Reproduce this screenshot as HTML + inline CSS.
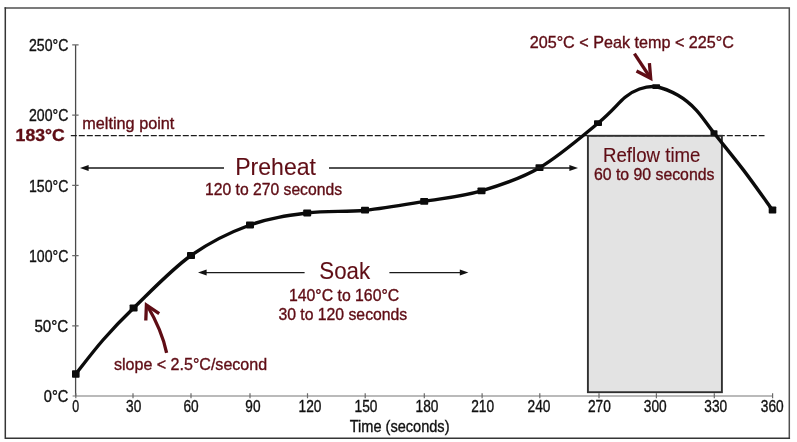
<!DOCTYPE html>
<html><head><meta charset="utf-8">
<style>
html,body{margin:0;padding:0;background:#fff;}
body{width:797px;height:442px;overflow:hidden;}
svg{display:block;font-family:"Liberation Sans",sans-serif;will-change:transform;opacity:0.999;}
</style></head><body>
<svg width="797" height="442" viewBox="0 0 797 442">
<rect x="0" y="0" width="797" height="442" fill="#fff"/>
<path d="M4.550 7.900H789.300V439.050" fill="none" stroke="#505050" stroke-width="1.5"/>
<path d="M5.300 7.150V438.300H790.050" fill="none" stroke="#353535" stroke-width="1.5"/>
<rect x="587.9" y="135.8" width="134" height="256.4" fill="#e3e3e3"/>
<g stroke="#4a4a4a" stroke-width="1.3" fill="none">
<path d="M75.6 44.9V396.0"/>
<path d="M72.6 396.0H773" stroke="#777" stroke-width="1.1"/>
</g><g stroke="#6a6a6a" stroke-width="1.2" fill="none">
<path d="M72.19999999999999 44.9h6.4M72.19999999999999 115.1h6.4M72.19999999999999 185.3h6.4M72.19999999999999 255.6h6.4M72.19999999999999 325.8h6.4"/>
<path d="M75.8 393.2v5M133.0 393.2v5M191.0 393.2v5M250.0 393.2v5M307.5 393.2v5M365.2 393.2v5M424.3 393.2v5M482.1 393.2v5M539.8 393.2v5M599.0 393.2v5M656.4 393.2v5M714.3 393.2v5M772.6 393.2v5"/>
</g>
<path d="M70.800 135.600H764.500" stroke="#1c1c1c" stroke-width="1.4" stroke-dasharray="6 2" fill="none"/>
<rect x="587.9" y="135.8" width="134" height="256.4" fill="none" stroke="#303030" stroke-width="1.9"/>
<path d="M75.8 374 C80.3 368.3 93.4 351.0 103 340 C112.6 329.0 118.9 322.1 133.6 308 C148.3 293.9 171.6 269.3 191 255.5 C210.4 241.7 230.6 232.1 250 225 C269.4 217.9 288.0 215.5 307.2 213 C326.4 210.5 345.5 212.1 365 210.2 C384.5 208.3 404.8 204.6 424.2 201.4 C443.6 198.2 462.3 196.4 481.5 190.8 C500.7 185.2 520.1 179.0 539.5 167.7 C558.9 156.4 583.7 134.9 598 123.2 C612.3 111.5 618.2 103.0 625.1 97.3 C632.0 91.6 634.3 90.8 639.5 89 C644.7 87.2 649.8 85.7 656.2 86.7 C662.6 87.8 671.4 91.5 678 95.3 C684.6 99.1 690.0 103.5 696 109.8 C702.0 116.1 706.0 122.9 714 133 C722.0 143.1 734.1 157.8 743.9 170.6 C753.6 183.4 767.7 203.4 772.5 210" fill="none" stroke="#0b0b0b" stroke-width="3.4" stroke-linecap="round" stroke-linejoin="round"/>
<g fill="#0b0b0b">
<rect x="72.0" y="370.3" width="7.6" height="7.4" rx="0.8"/>
<rect x="129.6" y="304.4" width="8" height="7.2" rx="0.8"/>
<rect x="187.0" y="252.0" width="8" height="7" rx="0.8"/>
<rect x="246.0" y="221.6" width="8" height="6.8" rx="0.8"/>
<rect x="303.2" y="209.6" width="8" height="6.8" rx="0.8"/>
<rect x="361.0" y="206.8" width="8" height="6.8" rx="0.8"/>
<rect x="420.2" y="198.0" width="8" height="6.8" rx="0.8"/>
<rect x="477.5" y="187.4" width="8" height="6.8" rx="0.8"/>
<rect x="535.5" y="164.3" width="8" height="6.8" rx="0.8"/>
<rect x="594.0" y="120.3" width="8" height="5.8" rx="0.8"/>
<rect x="652.3" y="84.3" width="7.8" height="4.8" rx="0.8"/>
<rect x="710.5" y="130.2" width="7" height="5.6" rx="0.8"/>
<rect x="768.7" y="206.4" width="7.6" height="7.2" rx="0.8"/>
</g>
<text x="29.0" y="51.2" font-size="15.9" fill="#111" textLength="39.3" lengthAdjust="spacingAndGlyphs" stroke="#111" stroke-width="0.35">250°C</text>
<text x="29.0" y="121.4" font-size="15.9" fill="#111" textLength="39.3" lengthAdjust="spacingAndGlyphs" stroke="#111" stroke-width="0.35">200°C</text>
<text x="29.0" y="191.6" font-size="15.9" fill="#111" textLength="39.3" lengthAdjust="spacingAndGlyphs" stroke="#111" stroke-width="0.35">150°C</text>
<text x="29.0" y="261.9" font-size="15.9" fill="#111" textLength="39.3" lengthAdjust="spacingAndGlyphs" stroke="#111" stroke-width="0.35">100°C</text>
<text x="34.4" y="332.1" font-size="15.9" fill="#111" textLength="33.9" lengthAdjust="spacingAndGlyphs" stroke="#111" stroke-width="0.35">50°C</text>
<text x="43.8" y="402.3" font-size="15.9" fill="#111" textLength="24.5" lengthAdjust="spacingAndGlyphs" stroke="#111" stroke-width="0.35">0°C</text>
<text x="72.3" y="411.7" font-size="15.9" fill="#111" textLength="6.9" lengthAdjust="spacingAndGlyphs" stroke="#111" stroke-width="0.35">0</text>
<text x="126.1" y="411.7" font-size="15.9" fill="#111" textLength="15.2" lengthAdjust="spacingAndGlyphs" stroke="#111" stroke-width="0.35">30</text>
<text x="183.4" y="411.7" font-size="15.9" fill="#111" textLength="15.2" lengthAdjust="spacingAndGlyphs" stroke="#111" stroke-width="0.35">60</text>
<text x="245.3" y="411.7" font-size="15.9" fill="#111" textLength="15.2" lengthAdjust="spacingAndGlyphs" stroke="#111" stroke-width="0.35">90</text>
<text x="298.6" y="411.7" font-size="15.9" fill="#111" textLength="22.9" lengthAdjust="spacingAndGlyphs" stroke="#111" stroke-width="0.35">120</text>
<text x="354.6" y="411.7" font-size="15.9" fill="#111" textLength="22.9" lengthAdjust="spacingAndGlyphs" stroke="#111" stroke-width="0.35">150</text>
<text x="415.6" y="411.7" font-size="15.9" fill="#111" textLength="22.9" lengthAdjust="spacingAndGlyphs" stroke="#111" stroke-width="0.35">180</text>
<text x="471.2" y="411.7" font-size="15.9" fill="#111" textLength="22.9" lengthAdjust="spacingAndGlyphs" stroke="#111" stroke-width="0.35">210</text>
<text x="527.6" y="411.7" font-size="15.9" fill="#111" textLength="22.9" lengthAdjust="spacingAndGlyphs" stroke="#111" stroke-width="0.35">240</text>
<text x="587.9" y="411.7" font-size="15.9" fill="#111" textLength="22.9" lengthAdjust="spacingAndGlyphs" stroke="#111" stroke-width="0.35">270</text>
<text x="643.8" y="411.7" font-size="15.9" fill="#111" textLength="22.9" lengthAdjust="spacingAndGlyphs" stroke="#111" stroke-width="0.35">300</text>
<text x="704.3" y="411.7" font-size="15.9" fill="#111" textLength="22.9" lengthAdjust="spacingAndGlyphs" stroke="#111" stroke-width="0.35">330</text>
<text x="760.8" y="411.7" font-size="15.9" fill="#111" textLength="22.9" lengthAdjust="spacingAndGlyphs" stroke="#111" stroke-width="0.35">360</text>
<text x="349.7" y="432.2" font-size="15.9" fill="#111" textLength="99.8" lengthAdjust="spacingAndGlyphs" stroke="#111" stroke-width="0.35">Time (seconds)</text>
<text x="15.6" y="140.9" font-size="15.9" fill="#5f0d15" textLength="49.1" lengthAdjust="spacingAndGlyphs" stroke="#5f0d15" stroke-width="0.35" font-weight="bold">183°C</text>
<text x="82.3" y="129.0" font-size="15.9" fill="#5f0d15" textLength="92.1" lengthAdjust="spacingAndGlyphs" stroke="#5f0d15" stroke-width="0.35">melting point</text>
<text x="205.0" y="195.3" font-size="15.9" fill="#5f0d15" textLength="137.0" lengthAdjust="spacingAndGlyphs" stroke="#5f0d15" stroke-width="0.35">120 to 270 seconds</text>
<text x="289.0" y="301.3" font-size="15.9" fill="#5f0d15" textLength="110.2" lengthAdjust="spacingAndGlyphs" stroke="#5f0d15" stroke-width="0.35">140°C to 160°C</text>
<text x="278.4" y="320.2" font-size="15.9" fill="#5f0d15" textLength="128.8" lengthAdjust="spacingAndGlyphs" stroke="#5f0d15" stroke-width="0.35">30 to 120 seconds</text>
<text x="594.0" y="180.0" font-size="15.9" fill="#5f0d15" textLength="120.4" lengthAdjust="spacingAndGlyphs" stroke="#5f0d15" stroke-width="0.35">60 to 90 seconds</text>
<text x="529.7" y="47.5" font-size="15.9" fill="#5f0d15" textLength="204.2" lengthAdjust="spacingAndGlyphs" stroke="#5f0d15" stroke-width="0.35">205°C &lt; Peak temp &lt; 225°C</text>
<text x="114.0" y="369.6" font-size="15.9" fill="#5f0d15" textLength="153.1" lengthAdjust="spacingAndGlyphs" stroke="#5f0d15" stroke-width="0.35">slope &lt; 2.5°C/second</text>
<text x="235.2" y="175.4" font-size="23.2" fill="#5f0d15" textLength="80.8" lengthAdjust="spacingAndGlyphs" stroke="#5f0d15" stroke-width="0.1">Preheat</text>
<text x="319.3" y="278.5" font-size="23.2" fill="#5f0d15" textLength="50.8" lengthAdjust="spacingAndGlyphs" stroke="#5f0d15" stroke-width="0.1">Soak</text>
<text x="603.0" y="161.8" font-size="20.3" fill="#5f0d15" textLength="97.5" lengthAdjust="spacingAndGlyphs" stroke="#5f0d15" stroke-width="0.15">Reflow time</text>
<g stroke="#1a1a1a" stroke-width="1.4" fill="none">
<path d="M86 168H224M329 168H572"/>
<path d="M204 272.600H304.600M389.400 272.600H462"/>
</g><g fill="#111">
<path d="M80 168l8.600-3v6z"/>
<path d="M578 168l-8.600-3v6z"/>
<path d="M198 272.600l8.600-3v6z"/>
<path d="M468.400 272.600l-8.600-3v6z"/>
</g>
<g stroke="#5f0d15" stroke-width="3.3" fill="none" stroke-linecap="butt" stroke-linejoin="miter">
<path d="M634.400 53.600L650.500 78"/>
<path d="M636.500 71L650.700 78.300L649.400 63.100"/>
<path d="M166.600 352.800C163.500 338 157 322 147.200 305.500"/>
<path d="M145.800 320.500L146.400 305L159.200 313.700"/>
</g>
</svg>
</body></html>
